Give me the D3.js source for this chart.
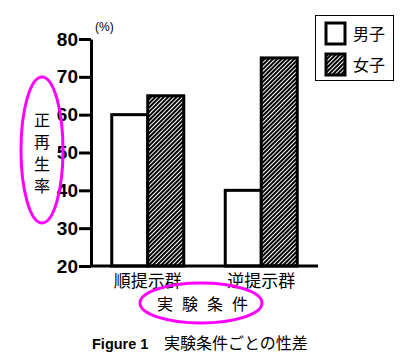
<!DOCTYPE html>
<html>
<head>
<meta charset="utf-8">
<script src="https://cdn.jsdelivr.net/npm/d3@7"></script>
<style>
  body { margin: 0; background: #fff; }
  svg { display: block; }
  .jp { font-family: "Noto Sans CJK JP", sans-serif; }
</style>
</head>
<body>
<svg id="chart" width="409" height="362"></svg>
<script>
// data
var groups = ['順提示群', '逆提示群'];
var sexes = ['男子', '女子'];
var maleValues = [60, 40];
var femaleValues = [65, 75];
var yTicks = [20, 30, 40, 50, 60, 70, 80];

var svg = d3.select('#chart');

var x = d3.scaleBand().domain(groups).range([91, 318]);
var xs = d3.scaleBand().domain(sexes).range([-36, 36]);
var y = d3.scaleLinear().domain([20, 80]).range([266, 39]);

// hatch pattern: black with thin white diagonals
var defs = svg.append('defs');
var pat = defs.append('pattern')
    .attr('id', 'hatch')
    .attr('patternUnits', 'userSpaceOnUse')
    .attr('width', 3)
    .attr('height', 3)
    .attr('patternTransform', 'rotate(45)');
pat.append('rect').attr('width', 3).attr('height', 3).attr('fill', '#000');
pat.append('line').attr('x1', 0.5).attr('x2', 0.5).attr('y1', 0).attr('y2', 3)
    .attr('stroke', '#fff').attr('stroke-width', 1);

var fills = { '男子': '#fff', '女子': 'url(#hatch)' };

var rows = groups.map(function (g, i) {
    return { group: g, values: [maleValues[i], femaleValues[i]] };
});

// bars
svg.selectAll('g.grp')
    .data(rows)
    .enter().append('g')
    .attr('class', 'grp')
    .attr('transform', function (d) { return 'translate(' + (x(d.group) + x.bandwidth() / 2) + ',0)'; })
    .selectAll('rect')
    .data(function (d) { return d.values.map(function (v, j) { return { sex: sexes[j], v: v }; }); })
    .enter().append('rect')
    .attr('x', function (d) { return xs(d.sex); })
    .attr('width', xs.bandwidth())
    .attr('y', function (d) { return y(d.v); })
    .attr('height', function (d) { return y(20) - y(d.v); })
    .attr('fill', function (d) { return fills[d.sex]; })
    .attr('stroke', '#000')
    .attr('stroke-width', 3);

// y axis
var yAxis = svg.append('g')
    .attr('transform', 'translate(91,0)')
    .call(d3.axisLeft(y).tickValues(yTicks).tickSize(12).tickPadding(1).tickSizeOuter(0));
yAxis.select('.domain').attr('stroke-width', 3);
yAxis.selectAll('.tick line').attr('stroke-width', 3);
yAxis.selectAll('.tick text')
    .attr('font-family', 'Liberation Sans, Arial, sans-serif')
    .attr('font-weight', 'bold')
    .attr('font-size', 19)
    .attr('fill', '#000');

// x axis
var xAxis = svg.append('g')
    .attr('transform', 'translate(0,266)')
    .call(d3.axisBottom(x).tickSize(0).tickPadding(9));
xAxis.select('.domain').attr('stroke-width', 3).attr('d', 'M91,0H318');
xAxis.selectAll('.tick text')
    .attr('class', 'jp')
    .attr('font-family', 'Noto Sans CJK JP')
    .attr('font-size', 17)
    .attr('fill', '#000');

// (%)
svg.append('text')
    .attr('x', 95).attr('y', 31)
    .attr('font-family', 'Liberation Sans, Arial, sans-serif')
    .attr('font-size', 12)
    .text('(%)');

// y label, vertical
var yLab = ['正', '再', '生', '率'];
svg.selectAll('text.ylab')
    .data(yLab)
    .enter().append('text')
    .attr('class', 'ylab jp')
    .attr('x', 42)
    .attr('y', function (d, i) { return 126 + i * 22; })
    .attr('text-anchor', 'middle')
    .attr('font-size', 16)
    .text(function (d) { return d; });

svg.append('ellipse')
    .attr('cx', 42).attr('cy', 150).attr('rx', 21).attr('ry', 73)
    .attr('fill', 'none').attr('stroke', '#ff00ff').attr('stroke-width', 3);

// x label, spaced characters
var xLab = ['実', '験', '条', '件'];
svg.selectAll('text.xlab')
    .data(xLab)
    .enter().append('text')
    .attr('class', 'xlab jp')
    .attr('x', function (d, i) { return 165 + i * 25; })
    .attr('y', 310)
    .attr('text-anchor', 'middle')
    .attr('font-size', 16)
    .text(function (d) { return d; });

svg.append('ellipse')
    .attr('cx', 201).attr('cy', 303).attr('rx', 61).attr('ry', 20)
    .attr('fill', 'none').attr('stroke', '#ff00ff').attr('stroke-width', 3);

// legend
var legend = svg.append('g');
legend.append('rect')
    .attr('x', 315.5).attr('y', 15.5).attr('width', 78).attr('height', 65)
    .attr('fill', '#fff').attr('stroke', '#000').attr('stroke-width', 1);
var li = legend.selectAll('g.li')
    .data(sexes)
    .enter().append('g')
    .attr('class', 'li')
    .attr('transform', function (d, i) { return 'translate(0,' + (i * 31) + ')'; });
li.append('rect')
    .attr('x', 326).attr('y', 23).attr('width', 19).attr('height', 21)
    .attr('fill', function (d) { return fills[d]; })
    .attr('stroke', '#000').attr('stroke-width', 3);
li.append('text')
    .attr('class', 'jp')
    .attr('x', 353).attr('y', 40)
    .attr('font-size', 16)
    .text(function (d) { return d; });

// caption
svg.append('text')
    .attr('x', 92).attr('y', 349)
    .attr('font-family', 'Liberation Sans, Arial, sans-serif')
    .attr('font-weight', 'bold')
    .attr('font-size', 14.5)
    .text('Figure 1');
svg.append('text')
    .attr('class', 'jp')
    .attr('x', 164).attr('y', 349)
    .attr('font-size', 16)
    .text('実験条件ごとの性差');
</script>
</body>
</html>
